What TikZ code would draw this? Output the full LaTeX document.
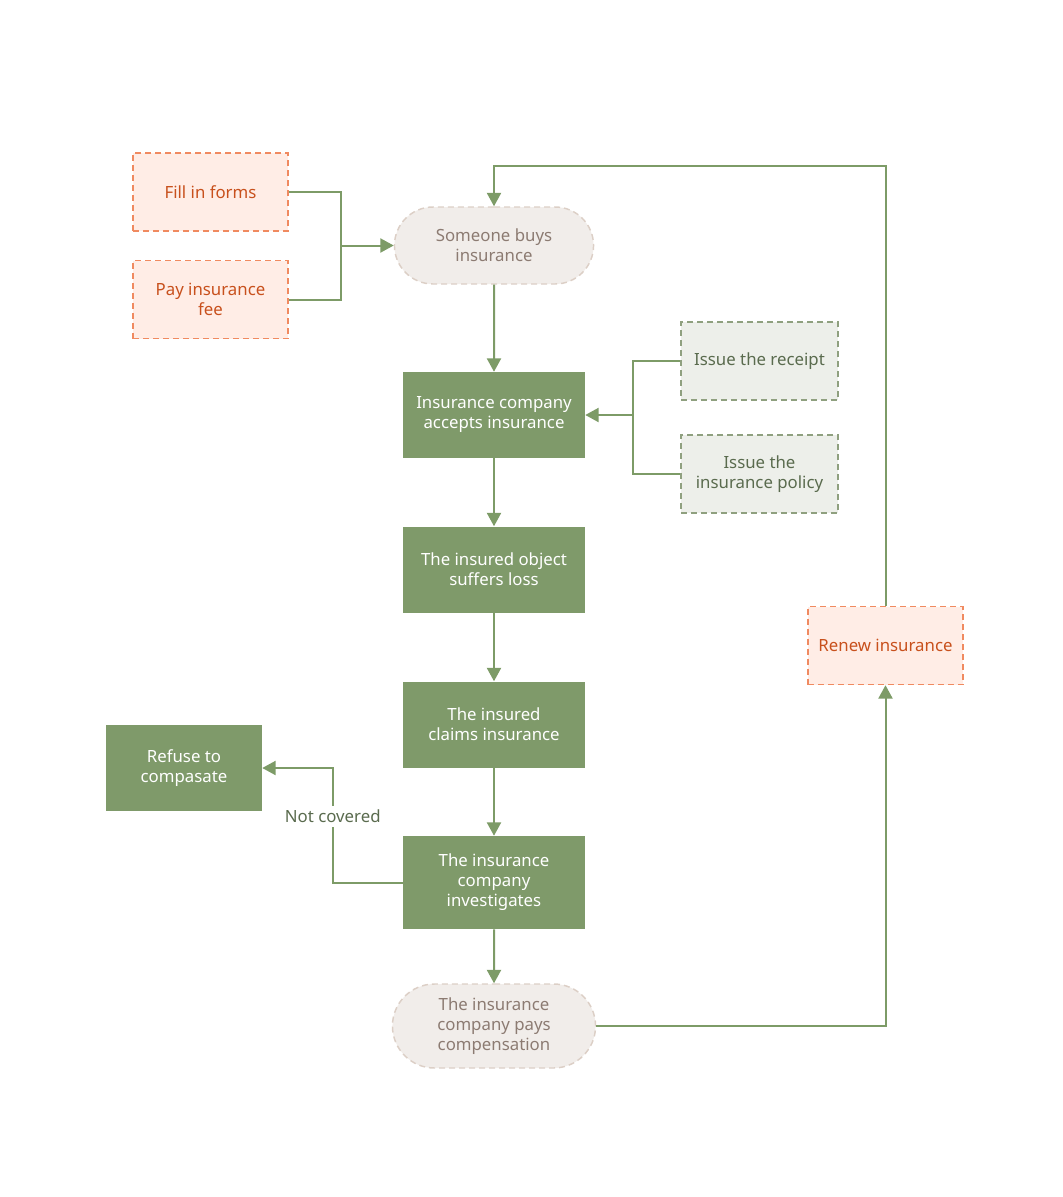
\documentclass[tikz,border=0pt]{standalone}
\usepackage{fontspec}
\setmainfont{Noto Sans}
\usetikzlibrary{positioning,shapes.misc,arrows.meta,calc}
\definecolor{insgreen}{HTML}{7F9A6A}
\definecolor{insline}{HTML}{7D9B67}
\definecolor{inssalmon}{HTML}{FFEDE6}
\definecolor{inssalmonline}{HTML}{F08A60}
\definecolor{inssalmontext}{HTML}{C8501C}
\definecolor{insgrey}{HTML}{EDEFEA}
\definecolor{insgreyline}{HTML}{8FA07F}
\definecolor{insgreytext}{HTML}{5A6B4E}
\definecolor{insstone}{HTML}{F1EDEA}
\definecolor{insstoneline}{HTML}{DCCFC6}
\definecolor{insstonetext}{HTML}{8C7B72}

\begin{document}
\begin{tikzpicture}[
    x=0.75pt, y=-0.75pt,
    font=\fontsize{12.6}{15}\selectfont,
    step box/.style={rectangle, fill=insgreen, text=white, align=center,
        minimum width=136.5pt, minimum height=64.5pt, inner sep=2pt},
    extra box/.style={rectangle, draw=inssalmonline, fill=inssalmon, text=inssalmontext,
        line width=1.1pt, dash pattern=on 4.5pt off 3pt, align=center,
        minimum width=116.25pt, minimum height=58.5pt},
    issue box/.style={rectangle, draw=insgreyline, fill=insgrey, text=insgreytext,
        line width=1.1pt, dash pattern=on 4.5pt off 3pt, align=center,
        minimum width=117.75pt, minimum height=58.5pt},
    end box/.style={rounded rectangle, draw=insstoneline, fill=insstone, text=insstonetext,
        line width=1.1pt, dash pattern=on 4.5pt off 3pt, align=center},
    flow/.style={insline, line width=1.5pt, -{Triangle[length=10pt, width=10.5pt]}},
    link/.style={insline, line width=1.5pt}
]
\useasboundingbox (0,0) rectangle (1063,1197);

% Main column
\node[end box, minimum width=156pt, minimum height=57.75pt] (buy) at (494,245.5) {Someone buys\\insurance};
\node[step box] (accept) at (494,415) {Insurance company\\accepts insurance};
\node[step box] (loss) at (494,569.5) {The insured object\\suffers loss};
\node[step box] (claim) at (494,724.5) {The insured\\claims insurance};
\node[step box, minimum height=69.75pt] (investigate) at (494,882.5) {The insurance\\company\\investigates};
\node[end box, minimum width=159pt, minimum height=63pt] (pay) at (494,1026) {The insurance\\company pays\\compensation};

% Side boxes
\node[extra box] (forms) at (210.5,192) {Fill in forms};
\node[extra box] (fee) at (210.5,299.5) {Pay insurance\\fee};
\node[issue box] (receipt) at (759.5,361) {Issue the receipt};
\node[issue box] (policy) at (759.5,474) {Issue the\\insurance policy};
\node[step box, minimum width=117pt] (refuse) at (184,768) {Refuse to\\compasate};
\node[extra box] (renew) at (885.5,645.5) {Renew insurance};

% Join points
\coordinate (formsjoin) at (341,245.5);
\coordinate (issuejoin) at (633,415);

% Connectors
\draw[flow] (buy) -- (accept);
\draw[flow] (accept) -- (loss);
\draw[flow] (loss) -- (claim);
\draw[flow] (claim) -- (investigate);
\draw[flow] (investigate) -- (pay);

\draw[link] (forms.east) -| (formsjoin);
\draw[link] (fee.east) -| (formsjoin);
\draw[flow] (formsjoin) -- (buy.west);

\draw[link] (receipt.west) -| (issuejoin);
\draw[link] (policy.west) -| (issuejoin);
\draw[flow] (issuejoin) -- (accept.east);

\draw[flow] (investigate.west) -- ++(-70,0) |- (refuse.east)
    node[pos=0.29, fill=white, text=insgreytext, inner sep=3pt] (notcovered) {Not covered};

\draw[flow] (pay.east) -| (renew.south);
\draw[flow] (renew.north) |- (494,166) -- (buy.north);

\end{tikzpicture}
\end{document}
